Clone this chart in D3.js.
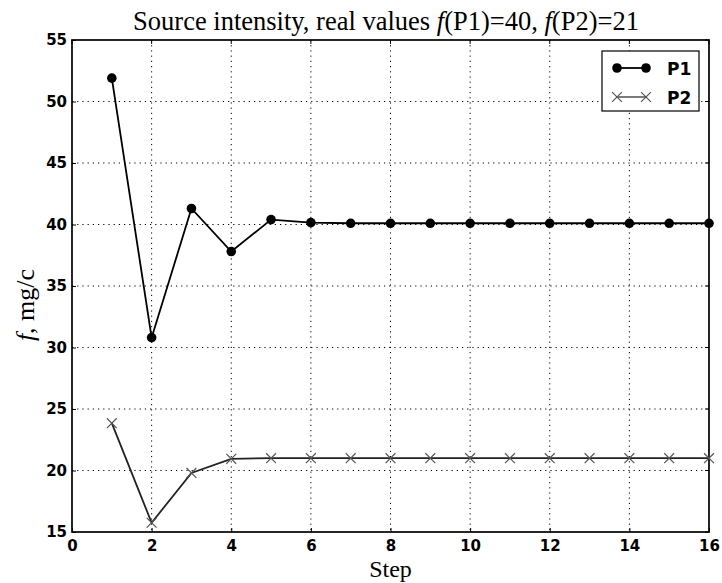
<!DOCTYPE html>
<meta charset="utf-8">
<head>
  <style>
    body { margin: 0; background: #fff; }
    .axis text { font: bold 15px "DejaVu Sans", sans-serif; fill: #000; }
    .grid line { stroke: #000; stroke-dasharray: 1.2, 4; stroke-width: 1; }
  </style>
</head>
<body>
  <script src="https://d3js.org/d3.v7.min.js"></script>
  <script>
    var steps = [1, 2, 3, 4, 5, 6, 7, 8, 9, 10, 11, 12, 13, 14, 15, 16];
    var p1 = [51.9, 30.8, 41.3, 37.8, 40.4, 40.15, 40.1, 40.1, 40.1, 40.1, 40.1, 40.1, 40.1, 40.1, 40.1, 40.1];
    var p2 = [23.85, 15.75, 19.8, 20.95, 21.0, 21.0, 21.0, 21.0, 21.0, 21.0, 21.0, 21.0, 21.0, 21.0, 21.0, 21.0];
    var xTicks = [0, 2, 4, 6, 8, 10, 12, 14, 16];
    var yTicks = [15, 20, 25, 30, 35, 40, 45, 50, 55];

    var margin = { top: 40, right: 13, bottom: 51, left: 72 },
      width = 722 - margin.left - margin.right,
      height = 583 - margin.top - margin.bottom;

    var svg = d3.select("body").append("svg")
      .attr("width", 722)
      .attr("height", 583);

    var g = svg.append("g")
      .attr("transform", "translate(" + margin.left + "," + margin.top + ")");

    var x = d3.scaleLinear().domain([0, 16]).range([0, width]);
    var y = d3.scaleLinear().domain([15, 55]).range([height, 0]);

    // dotted grid
    g.append("g").attr("class", "grid")
      .selectAll("line.v").data(xTicks.slice(1, -1)).enter().append("line")
      .attr("x1", d => x(d)).attr("x2", d => x(d))
      .attr("y1", 0).attr("y2", height);
    g.append("g").attr("class", "grid")
      .selectAll("line.h").data(yTicks.slice(1, -1)).enter().append("line")
      .attr("y1", d => y(d)).attr("y2", d => y(d))
      .attr("x1", 0).attr("x2", width);

    // axes, ticks inward
    g.append("g").attr("class", "axis")
      .attr("transform", "translate(0," + height + ")")
      .call(d3.axisBottom(x).tickValues(xTicks).tickSizeInner(-4).tickSizeOuter(0).tickPadding(8));
    g.append("g").attr("class", "axis")
      .call(d3.axisLeft(y).tickValues(yTicks).tickSizeInner(-4).tickSizeOuter(0).tickPadding(5));
    g.selectAll(".axis .domain").remove();
    g.selectAll(".axis .tick line").attr("stroke", "#000");

    // top/right ticks
    g.append("g").selectAll("line").data(xTicks).enter().append("line")
      .attr("x1", d => x(d)).attr("x2", d => x(d)).attr("y1", 0).attr("y2", 4).attr("stroke", "#000");
    g.append("g").selectAll("line").data(yTicks).enter().append("line")
      .attr("y1", d => y(d)).attr("y2", d => y(d)).attr("x1", width).attr("x2", width - 4).attr("stroke", "#000");

    g.append("rect")
      .attr("width", width).attr("height", height)
      .attr("fill", "none").attr("stroke", "#000").attr("stroke-width", 1.7);

    var line = d3.line().x((d, i) => x(steps[i])).y(d => y(d));

    // P2 series (x markers)
    g.append("path").datum(p2)
      .attr("d", line).attr("fill", "none").attr("stroke", "#222").attr("stroke-width", 1.8);
    var cross = d3.symbol().type(d3.symbolX).size(65);
    g.append("g").selectAll("path").data(p2).enter().append("path")
      .attr("d", cross)
      .attr("transform", (d, i) => "translate(" + x(steps[i]) + "," + y(d) + ")")
      .attr("fill", "none").attr("stroke", "#555").attr("stroke-width", 1.2);

    // P1 series (filled circles)
    g.append("path").datum(p1)
      .attr("d", line).attr("fill", "none").attr("stroke", "#000").attr("stroke-width", 1.8);
    g.append("g").selectAll("circle").data(p1).enter().append("circle")
      .attr("cx", (d, i) => x(steps[i])).attr("cy", d => y(d)).attr("r", 4.8)
      .attr("fill", "#000");

    // legend
    var lg = g.append("g").attr("transform", "translate(" + (width - 107) + ",11)");
    lg.append("rect").attr("width", 97).attr("height", 60)
      .attr("fill", "#fff").attr("stroke", "#000").attr("stroke-width", 1.2);
    lg.append("line").attr("x1", 15).attr("x2", 44).attr("y1", 17).attr("y2", 17)
      .attr("stroke", "#000").attr("stroke-width", 1.8);
    lg.selectAll("circle.l").data([15, 44]).enter().append("circle")
      .attr("cx", d => d).attr("cy", 17).attr("r", 4.8).attr("fill", "#000");
    lg.append("line").attr("x1", 15).attr("x2", 44).attr("y1", 46).attr("y2", 46)
      .attr("stroke", "#222").attr("stroke-width", 1.2);
    lg.selectAll("path.l").data([15, 44]).enter().append("path")
      .attr("d", cross).attr("transform", d => "translate(" + d + ",46)")
      .attr("fill", "none").attr("stroke", "#555").attr("stroke-width", 1.2);
    lg.append("text").attr("x", 65).attr("y", 24).text("P1")
      .style("font", "bold 17px 'DejaVu Sans', sans-serif");
    lg.append("text").attr("x", 65).attr("y", 53).text("P2")
      .style("font", "bold 17px 'DejaVu Sans', sans-serif");

    // title
    var title = svg.append("text")
      .attr("x", 386).attr("y", 30)
      .attr("text-anchor", "middle")
      .style("font", "26.5px 'Liberation Serif', serif");
    title.append("tspan").text("Source intensity, real values ");
    title.append("tspan").attr("font-style", "italic").text("f");
    title.append("tspan").text("(P1)=40, ");
    title.append("tspan").attr("font-style", "italic").text("f");
    title.append("tspan").text("(P2)=21");

    // axis labels
    svg.append("text")
      .attr("x", margin.left + width / 2).attr("y", 577)
      .attr("text-anchor", "middle")
      .style("font", "24px 'Liberation Serif', serif")
      .text("Step");

    var yl = svg.append("text")
      .attr("transform", "translate(34,305) rotate(-90)")
      .attr("text-anchor", "middle")
      .style("font", "26px 'Liberation Serif', serif");
    yl.append("tspan").attr("font-style", "italic").text("f");
    yl.append("tspan").text(", mg/c");
  </script>
</body>
